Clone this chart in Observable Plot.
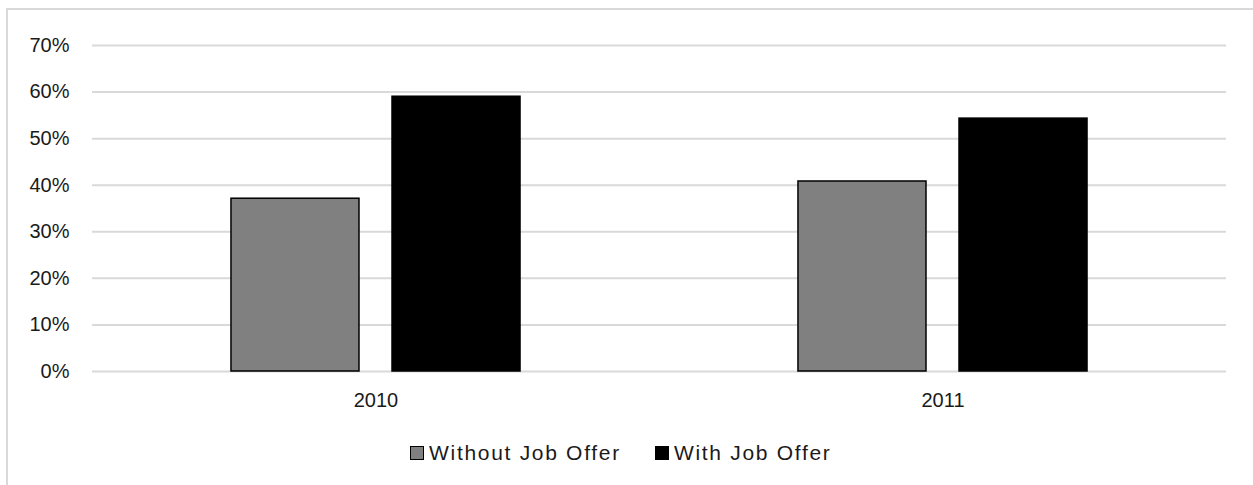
<!DOCTYPE html>
<html>
<head>
<meta charset="utf-8">
<script src="https://cdn.jsdelivr.net/npm/d3@7"></script>
<script src="https://cdn.jsdelivr.net/npm/@observablehq/plot@0.6"></script>
<style>
  html, body { margin: 0; padding: 0; background: #fff; overflow: hidden; }
  #wrap { position: relative; width: 1253px; height: 485px; }
  #frame { position: absolute; left: 6px; top: 8px; width: 1400px; height: 600px;
           border-left: 2px solid #d9d9d9; border-top: 2px solid #d9d9d9; pointer-events: none; z-index: 2; }
  #chart { position: absolute; left: 0; top: 0; }
  #legend { position: absolute; left: 410px; top: 441px; display: flex; align-items: center;
            font-family: "Liberation Sans", Arial, sans-serif; font-size: 21px; line-height: 24px;
            color: #1a1a1a; letter-spacing: 1.7px; }
  .item { display: flex; align-items: center; }
  .sw { width: 14px; height: 14px; box-sizing: border-box; border: 1.5px solid #000; margin-right: 5px; }
</style>
</head>
<body>
<div id="wrap">
  <div id="chart"></div>
  <div id="legend"></div>
  <div id="frame"></div>
</div>
<script>
const years = ["2010", "2011"];
const series = ["Without Job Offer", "With Job Offer"];
const withoutOffer = [0.371, 0.408];
const withOffer = [0.59, 0.543];
const yTicks = [0, 0.1, 0.2, 0.3, 0.4, 0.5, 0.6, 0.7];
const colors = ["#808080", "#000000"];

const data = [];
years.forEach((yr, i) => {
  data.push({year: yr, series: series[0], value: withoutOffer[i]});
  data.push({year: yr, series: series[1], value: withOffer[i]});
});

const chart = Plot.plot({
  width: 1253,
  height: 421,
  marginLeft: 92,
  marginRight: 27,
  marginTop: 45,
  marginBottom: 50,
  style: {fontFamily: "'Liberation Sans', Arial, sans-serif", fontSize: "20px", color: "#1a1a1a", background: "transparent"},
  fx: {domain: years, padding: 0, label: null, tickSize: 0, tickPadding: 21},
  x: {domain: series, paddingInner: 0.205, paddingOuter: 0.863, axis: null, round: false},
  y: {domain: [0, 0.7], ticks: yTicks, tickFormat: d3.format(".0%"), label: null, tickSize: 0, tickPadding: 23},
  color: {domain: series, range: colors},
  marks: [
    Plot.ruleY(yTicks, {stroke: "#d9d9d9", strokeWidth: 2}),
    Plot.barY(data, {fx: "year", x: "series", y: "value", fill: "series", stroke: "#000", strokeWidth: 1.5})
  ]
});
document.getElementById("chart").appendChild(chart);

const legend = document.getElementById("legend");
series.forEach((s, i) => {
  const item = document.createElement("div");
  item.className = "item";
  if (i > 0) item.style.marginLeft = "34px";
  const sw = document.createElement("div");
  sw.className = "sw";
  sw.style.background = colors[i];
  const label = document.createElement("span");
  label.textContent = s;
  item.appendChild(sw);
  item.appendChild(label);
  legend.appendChild(item);
});
</script>
</body>
</html>
